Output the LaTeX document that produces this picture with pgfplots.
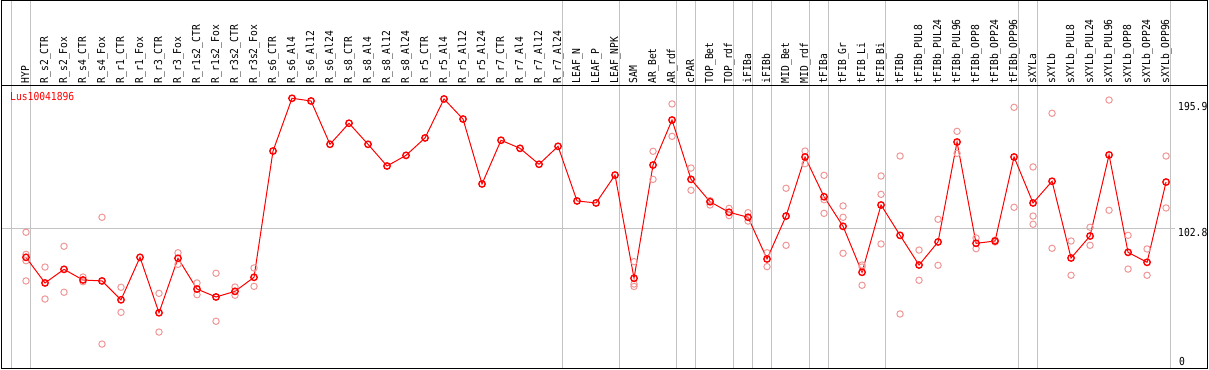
\documentclass[border=0pt]{standalone}
\usepackage{fontspec}
\usepackage{pgfplots}
\pgfplotsset{compat=1.18}
\newfontfamily\gdfont[FakeStretch=0.88]{DejaVu Sans Mono}
\newcommand\gd{\gdfont\fontsize{11bp}{11bp}\selectfont}
\definecolor{rep}{RGB}{240,150,150}
\definecolor{sep}{RGB}{195,195,195}
\begin{document}
\begin{tikzpicture}
\useasboundingbox (0,0) rectangle (1209bp,370bp);
\begin{axis}[
  at={(1.5bp,1.5bp)}, anchor=south west,
  scale only axis, width=1206bp, height=283bp,
  xmin=-1.2895, xmax=62.184, ymin=-1.11, ymax=208.68,
  clip=false,
  axis line style={black, line width=1.2bp},
  xtick={0,...,60},
  xticklabels={HYP, R\_s2\_CTR, R\_s2\_Fox, R\_s4\_CTR, R\_s4\_Fox, R\_r1\_CTR, R\_r1\_Fox, R\_r3\_CTR, R\_r3\_Fox, R\_r1s2\_CTR, R\_r1s2\_Fox, R\_r3s2\_CTR, R\_r3s2\_Fox, R\_s6\_CTR, R\_s6\_Al4, R\_s6\_Al12, R\_s6\_Al24, R\_s8\_CTR, R\_s8\_Al4, R\_s8\_Al12, R\_s8\_Al24, R\_r5\_CTR, R\_r5\_Al4, R\_r5\_Al12, R\_r5\_Al24, R\_r7\_CTR, R\_r7\_Al4, R\_r7\_Al12, R\_r7\_Al24, LEAF\_N, LEAF\_P, LEAF\_NPK, SAM, AR\_Bet, AR\_rdf, cPAR, TOP\_Bet, TOP\_rdf, iFIBa, iFIBb, MID\_Bet, MID\_rdf, tFIBa, tFIB\_Gr, tFIB\_Li, tFIB\_Bi, tFIBb, tFIBb\_PUL8, tFIBb\_PUL24, tFIBb\_PUL96, tFIBb\_OPP8, tFIBb\_OPP24, tFIBb\_OPP96, sXYLa, sXYLb, sXYLb\_PUL8, sXYLb\_PUL24, sXYLb\_PUL96, sXYLb\_OPP8, sXYLb\_OPP24, sXYLb\_OPP96},
  xticklabel pos=upper,
  major tick length=0pt,
  ytick=\empty,
  xticklabel style={font=\gd, rotate=90, anchor=west, inner xsep=2bp, inner ysep=0pt, text height=8bp, text depth=2bp},
]
% group separators
\pgfplotsinvokeforeach{-1,0,28,31,34,35,37,38,39,41,42,45,52,53,60}{
  \draw[sep, line width=1bp] (axis cs:#1+0.247,-1.11) -- (axis cs:#1+0.247,272);
}
\draw[sep, line width=1bp] (axis cs:-1.2895,102.8) -- (axis cs:60.47,102.8);
% replicates
\addplot[only marks, mark=o, mark size=3.2bp, color=rep, mark options={line width=1bp}] coordinates {
(0,99.9) (0,83.5) (0,78.8) (0,63.8)
(1,74.1) (1,50.4)
(2,89.5) (2,55.4)
(3,66.7) (3,63.2)
(4,111.0) (4,17.0)
(5,59.1) (5,40.5)
(7,54.6) (7,25.9)
(8,84.7) (8,76.1)
(9,62.3) (9,53.6)
(10,69.5) (10,33.9)
(11,59.3) (11,53.2)
(12,73.4) (12,59.8)
(32,78.1) (32,61.5) (32,59.7)
(33,159.9) (33,139.1)
(34,195.0) (34,171.0)
(35,147.5) (35,131.0)
(36,123.3) (36,120.1)
(37,117.6) (37,112.2)
(38,114.4) (38,108.2)
(39,84.7) (39,74.4)
(40,132.5) (40,90.2)
(41,160.1) (41,150.7)
(42,142.1) (42,124.0) (42,113.9)
(43,119.4) (43,111.0) (43,84.3)
(44,75.6) (44,74.1) (44,60.6)
(45,141.6) (45,128.0) (45,91.2)
(46,156.4) (46,39.3)
(47,86.7) (47,64.3)
(48,109.5) (48,75.4)
(49,174.7) (49,158.4)
(50,95.6) (50,87.7)
(51,94.1) (51,92.7)
(52,192.5) (52,118.4)
(53,148.3) (53,111.9) (53,105.8)
(54,188.1) (54,88.0)
(55,93.4) (55,68.0)
(56,103.6) (56,90.2)
(57,197.9) (57,116.2)
(58,97.6) (58,72.6)
(59,87.5) (59,68.0)
(60,156.4) (60,117.9)
};
% means
\addplot[red, line width=1bp, mark=o, mark size=3.2bp, mark options={line width=1.4bp, solid}] coordinates {
(0,81.3) (1,62.3) (2,72.4) (3,64.5) (4,63.8) (5,49.8) (6,81.3) (7,40.2) (8,80.6) (9,57.8)
(10,51.9) (11,56.1) (12,66.5) (13,160.1) (14,199.2) (15,197.2) (16,165.1) (17,180.7) (18,165.1) (19,149.0)
(20,156.9) (21,169.8) (22,198.7) (23,183.8) (24,135.7) (25,168.1) (26,162.1) (27,150.3) (28,163.6) (29,123.1)
(30,121.6) (31,142.3) (32,65.8) (33,149.7) (34,183.1) (35,139.1) (36,122.5) (37,114.7) (38,111.0) (39,80.1)
(40,111.9) (41,155.7) (42,126.2) (43,104.3) (44,70.2) (45,120.1) (46,97.6) (47,75.6) (48,92.7) (49,166.8)
(50,91.7) (51,93.4) (52,155.7) (53,121.6) (54,137.7) (55,80.8) (56,97.1) (57,157.2) (58,85.0) (59,77.6)
(60,137.1)
};
\node[anchor=base west, text=red, font=\gd, inner sep=0pt] at (axis cs:-0.842,197.2) {Lus10041896};
\node[anchor=base west, font=\gd, inner sep=0pt] at (axis cs:60.63,189.8) {195.9};
\node[anchor=base west, font=\gd, inner sep=0pt] at (axis cs:60.63,97.1) {102.8};
\node[anchor=base west, font=\gd, inner sep=0pt] at (axis cs:60.68,1.26) {0};
\end{axis}
\draw[black, line width=1.2bp] (1.5bp,1.5bp) rectangle (1207.5bp,369.5bp);
\draw[black, line width=1.2bp] (1.5bp,284.5bp) -- (1207.5bp,284.5bp);
\end{tikzpicture}
\end{document}
